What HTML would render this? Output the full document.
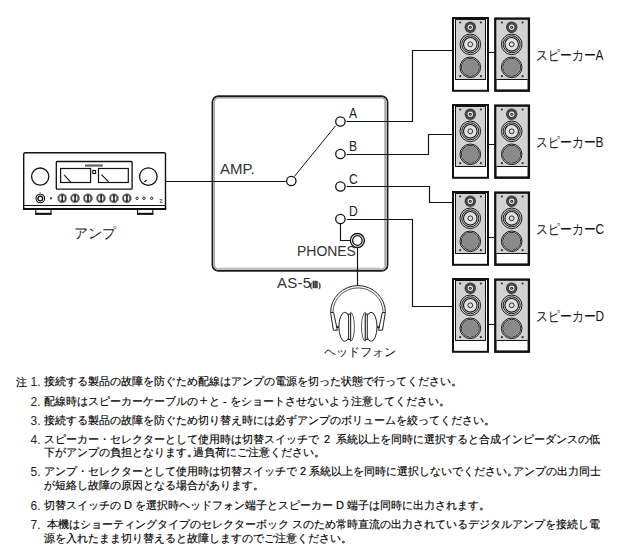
<!DOCTYPE html>
<html><head><meta charset="utf-8">
<style>
html,body{margin:0;padding:0;background:#fff;}
body{width:620px;height:560px;position:relative;overflow:hidden;font-family:"Liberation Sans",sans-serif;color:#222;}
svg{position:absolute;left:0;top:0;}
.t{position:absolute;white-space:nowrap;line-height:1;}
.lab{font-size:15px;color:#333;}
.abc{font-size:15.5px;color:#222;transform:scaleX(0.78);transform-origin:0 0;}
.jp{font-size:14px;color:#111;}
.spk{font-size:14px;color:#111;transform:scaleX(0.85);transform-origin:0 0;}
.notes{position:absolute;left:0;top:0;font-size:11px;color:#000;-webkit-text-stroke:0.15px #000;}
.n{position:absolute;white-space:nowrap;line-height:14px;}
.p{letter-spacing:-5px;}
.d{font-size:12px;-webkit-text-stroke:0;color:#222;margin-top:1px;}
</style></head><body>
<svg width="620" height="560" viewBox="0 0 620 560">
<defs>
 <g id="drv">
  <circle cx="0" cy="27.3" r="5.7" fill="#3a3a3a"/>
  <circle cx="0" cy="27.3" r="4.2" fill="none" stroke="#5a5a5a" stroke-width="0.8"/>
  <circle cx="0" cy="27.3" r="2.7" fill="#eeeeee"/>
  <circle cx="0" cy="27.3" r="1.5" fill="#222"/>
  <circle cx="0" cy="27.3" r="0.6" fill="#bbb"/>
  <g fill="none" stroke="#1a1a1a">
   <circle cx="0" cy="44.3" r="10.3" stroke-width="1"/>
   <circle cx="0" cy="44.3" r="8.5" stroke-width="1"/>
   <circle cx="0" cy="44.3" r="6.8" stroke-width="1.1" fill="#e0e0e0"/>
   <circle cx="0" cy="44.3" r="2.4" stroke-width="0.9"/>
   <circle cx="0" cy="67.3" r="10.3" stroke-width="1"/>
   <circle cx="0" cy="67.3" r="8.9" stroke-width="1"/>
  </g>
  <circle cx="0" cy="67.3" r="8.3" fill="#8a8a8a"/>
 </g>
 <g id="screws" fill="#333">
  <circle cx="0" cy="22.5" r="1.1"/><circle cx="20.7" cy="22.5" r="1.1"/>
  <circle cx="0" cy="76.2" r="1.1"/><circle cx="20.7" cy="76.2" r="1.1"/>
 </g>
 <g id="pair">
  <rect x="453" y="18" width="35" height="72.8" fill="#fff" stroke="#111" stroke-width="2"/>
  <rect x="455.5" y="19.5" width="30" height="60" fill="#d2d2d2" stroke="#111" stroke-width="1"/>
  <use href="#drv" x="470.3" y="0"/>
  <use href="#screws" x="460.2" y="0"/>
  <rect x="495.35" y="18.65" width="33.45" height="72" fill="#fff" stroke="#111" stroke-width="2.5"/>
  <rect x="496.6" y="19.9" width="30.8" height="59.7" fill="#d2d2d2"/>
  <line x1="496.4" y1="79.5" x2="527.6" y2="79.5" stroke="#111" stroke-width="1"/>
  <use href="#drv" x="511.7" y="0"/>
  <use href="#screws" x="501.9" y="0"/>
 </g>
</defs>
<use href="#pair" x="0" y="0"/>
<use href="#pair" x="0" y="87"/>
<use href="#pair" x="0" y="174"/>
<use href="#pair" x="0" y="261"/>

<!-- AMP unit -->
<g stroke="#111" fill="none">
 <path d="M23.7,209 L23.7,154.2 Q23.7,152.7 25.2,152.7 L164,152.7 Q165.5,152.7 165.5,154.2 L165.5,209" stroke-width="1.4"/>
 <line x1="23" y1="209" x2="166.2" y2="209" stroke-width="2"/>
 <line x1="23.7" y1="205.5" x2="165.5" y2="205.5" stroke-width="1"/>
 <path d="M35.8,210 L35.8,214 L51,214 L51,210" stroke-width="1.1"/>
 <line x1="35.3" y1="213.8" x2="51.5" y2="213.8" stroke-width="2"/>
 <path d="M137.5,210 L137.5,214 L152.8,214 L152.8,210" stroke-width="1.1"/>
 <line x1="137" y1="213.8" x2="153.3" y2="213.8" stroke-width="2"/>
 <circle cx="40.2" cy="176.6" r="8.6" stroke-width="1.3"/>
 <circle cx="148.3" cy="176.6" r="8.8" stroke-width="1.3"/>
 <line x1="144.5" y1="182" x2="146.5" y2="180" stroke-width="1.2"/>
 <rect x="56.3" y="161.5" width="75.8" height="27.7" rx="1" stroke-width="1.3"/>
 <rect x="60.6" y="168.5" width="30" height="14" stroke-width="1.2"/>
 <rect x="98.5" y="168.5" width="29.8" height="14" stroke-width="1.2"/>
 <line x1="64" y1="174.8" x2="70.8" y2="182.1" stroke-width="1.1"/>
 <line x1="101.4" y1="174.7" x2="108.7" y2="181.8" stroke-width="1.1"/>
 <rect x="92.8" y="170.5" width="2.8" height="3" stroke-width="1.1"/>
 <circle cx="40.3" cy="198.5" r="4.3" stroke-width="1.1"/>
 <circle cx="40.3" cy="198.5" r="2.4" stroke-width="1.3"/>
 <g stroke-width="0.9">
  <circle cx="137.1" cy="198.3" r="1.2"/><circle cx="143.9" cy="198.3" r="1.2"/><circle cx="151.7" cy="198.3" r="1.2"/>
 </g>
</g>
<g id="knobs">
 <circle cx="62.2" cy="198.3" r="4.6" fill="#4a4a4a" stroke="#999" stroke-width="0.8"/>
 <ellipse cx="60.5" cy="198.3" rx="1.1" ry="2.8" fill="#f4f4f4"/>
 <ellipse cx="63.8" cy="198.3" rx="0.9" ry="2.7" fill="#f4f4f4"/>
 <rect x="61.9" y="194.8" width="0.9" height="7" fill="#111"/>
 <circle cx="75" cy="198.3" r="4.6" fill="#4a4a4a" stroke="#999" stroke-width="0.8"/>
 <ellipse cx="73.3" cy="198.3" rx="1.1" ry="2.8" fill="#f4f4f4"/>
 <ellipse cx="76.6" cy="198.3" rx="0.9" ry="2.7" fill="#f4f4f4"/>
 <rect x="74.7" y="194.8" width="0.9" height="7" fill="#111"/>
 <circle cx="87.9" cy="198.3" r="4.6" fill="#4a4a4a" stroke="#999" stroke-width="0.8"/>
 <ellipse cx="86.2" cy="198.3" rx="1.1" ry="2.8" fill="#f4f4f4"/>
 <ellipse cx="89.5" cy="198.3" rx="0.9" ry="2.7" fill="#f4f4f4"/>
 <rect x="87.6" y="194.8" width="0.9" height="7" fill="#111"/>
 <circle cx="101" cy="198.3" r="4.6" fill="#4a4a4a" stroke="#999" stroke-width="0.8"/>
 <ellipse cx="99.3" cy="198.3" rx="1.1" ry="2.8" fill="#f4f4f4"/>
 <ellipse cx="102.6" cy="198.3" rx="0.9" ry="2.7" fill="#f4f4f4"/>
 <rect x="100.7" y="194.8" width="0.9" height="7" fill="#111"/>
 <circle cx="113.9" cy="198.3" r="4.6" fill="#4a4a4a" stroke="#999" stroke-width="0.8"/>
 <ellipse cx="112.2" cy="198.3" rx="1.1" ry="2.8" fill="#f4f4f4"/>
 <ellipse cx="115.5" cy="198.3" rx="0.9" ry="2.7" fill="#f4f4f4"/>
 <rect x="113.6" y="194.8" width="0.9" height="7" fill="#111"/>
 <circle cx="126.8" cy="198.3" r="4.6" fill="#4a4a4a" stroke="#999" stroke-width="0.8"/>
 <ellipse cx="125.1" cy="198.3" rx="1.1" ry="2.8" fill="#f4f4f4"/>
 <ellipse cx="128.4" cy="198.3" rx="0.9" ry="2.7" fill="#f4f4f4"/>
 <rect x="126.5" y="194.8" width="0.9" height="7" fill="#111"/>
</g>
<g fill="#222">
 <circle cx="51" cy="198.3" r="1.1"/>
 <circle cx="40" cy="192.4" r="0.5"/>
 <path d="M159.5,199.5 h2.5 l-2,3 h2.5" fill="none" stroke="#555" stroke-width="0.8"/>
</g>
<rect x="85" y="164.4" width="17.8" height="2.3" fill="#666"/>

<!-- Selector box -->
<rect x="212.4" y="96.1" width="175.2" height="174.8" rx="6" fill="none" stroke="#1e1e1e" stroke-width="1.7"/>
<rect x="214.2" y="97.8" width="171.3" height="171.3" rx="4.5" fill="none" stroke="#a0a0a0" stroke-width="1.4"/>
<line x1="384.6" y1="101" x2="384.6" y2="265" stroke="#b8b8b8" stroke-width="0.9"/>
<line x1="219" y1="268" x2="380" y2="268" stroke="#b8b8b8" stroke-width="0.8"/>

<g stroke="#111" fill="none" stroke-width="1.15">
 <!-- wires -->
 <polyline points="165.5,181.5 286.5,181.5"/>
 <polyline points="346.6,121.5 412.5,121.5 412.5,50.5 452,50.5"/>
 <polyline points="346.6,154.5 428.5,154.5 428.5,134.5 452,134.5"/>
 <polyline points="346.6,186.5 429.5,186.5 429.5,202.5 452,202.5"/>
 <polyline points="346.6,219.5 412.5,219.5 412.5,306.5 452,306.5"/>
 <polyline points="340.5,223.6 340.5,240.5 350.2,240.5"/>
 <line x1="357.5" y1="247.8" x2="357.5" y2="285.5"/>
 <!-- switch lever -->
 <line x1="294.4" y1="176.4" x2="335.6" y2="125.8" stroke-width="1"/>
 <circle cx="291.3" cy="181" r="4.7" stroke-width="1.3"/>
 <circle cx="340.4" cy="121.5" r="4.7" stroke-width="1.3"/>
 <circle cx="340.4" cy="154" r="4.7" stroke-width="1.3"/>
 <circle cx="340.4" cy="186.5" r="4.7" stroke-width="1.3"/>
 <circle cx="340.4" cy="219" r="4.7" stroke-width="1.3"/>
 <circle cx="357.4" cy="240.5" r="7" stroke-width="1.3"/>
 <circle cx="357.4" cy="240.5" r="4.8" stroke-width="1.3"/>
</g>

<!-- pair wires -->
<g stroke="#111" stroke-width="1">
 <line x1="489" y1="52.5" x2="494.3" y2="52.5"/>
 <line x1="489" y1="144.5" x2="494.3" y2="144.5"/>
 <line x1="489" y1="237.5" x2="494.3" y2="237.5"/>
 <line x1="489" y1="324.5" x2="494.3" y2="324.5"/>
</g>

<!-- Headphones -->
<g stroke="#222" fill="none" stroke-width="1">
 <path d="M330.6,312.5 A27.4,26.9 0 0 1 385.4,312.5"/>
 <path d="M332.9,312.5 A25.1,24.6 0 0 1 383.1,312.5" stroke="#444" stroke-width="0.9"/>
 <path d="M330.6,312.5 L333.6,312.5 L337.4,330.2 L333.4,330.2 Z" fill="#fff"/>
 <path d="M385.3,312.5 L382.3,312.5 L378.5,330.2 L382.5,330.2 Z" fill="#fff"/>
 <ellipse cx="344.8" cy="326.8" rx="5.9" ry="14.5" fill="#fff"/>
 <ellipse cx="371.1" cy="326.8" rx="5.9" ry="14.5" fill="#fff"/>
 <path d="M350.6,312.4 A3.8,14.4 0 0 1 350.6,341.2 Z" fill="#fff" stroke="#555"/>
 <path d="M365.3,312.4 A3.8,14.4 0 0 0 365.3,341.2 Z" fill="#fff" stroke="#555"/>
 <rect x="348.6" y="314.1" width="2" height="25.4" fill="#fff"/>
 <rect x="365.3" y="314.1" width="2" height="25.4" fill="#fff"/>
</g>
<g fill="#222">
 <rect x="336.4" y="326.2" width="2.4" height="1.8"/>
 <rect x="377.1" y="326.2" width="2.4" height="1.8"/>
</g>
</svg>

<!-- labels -->
<div class="t lab" style="left:220px;top:160.5px;">AMP.</div>
<div class="t lab" style="left:296.7px;top:243px;font-size:15.5px;transform:scaleX(0.9);transform-origin:0 0;">PHONES</div>
<div class="t lab" style="left:277px;top:275px;font-size:15px;letter-spacing:0.25px;">AS-5<span style="font-size:8.5px;letter-spacing:-0.4px;margin-left:-1.5px;font-weight:bold;color:#111;position:relative;top:-0.5px;font-family:'Liberation Serif',serif;">(Ⅲ)</span></div>
<div class="t abc" style="left:349.3px;top:105px;">A</div>
<div class="t abc" style="left:349.3px;top:138px;">B</div>
<div class="t abc" style="left:349.3px;top:170.5px;">C</div>
<div class="t abc" style="left:349.3px;top:203px;">D</div>
<div class="t jp" style="left:74px;top:225.5px;">アンプ</div>
<div class="t jp" style="left:324px;top:347px;font-size:11.5px;color:#111;">ヘッドフォン</div>
<div class="t spk" style="left:536px;top:48px;">スピーカーA</div>
<div class="t spk" style="left:536px;top:135px;">スピーカーB</div>
<div class="t spk" style="left:536px;top:222px;">スピーカーC</div>
<div class="t spk" style="left:536px;top:309px;">スピーカーD</div>

<!-- notes -->
<div class="notes">
 <div class="n" style="left:16px;top:375px;">注</div>
 <div class="n d" style="left:30.6px;top:374px;">1.</div><div class="n" style="left:44px;top:374px;">接続する製品の故障を防ぐため配線はアンプの電源を切った状態で行ってください。</div>
 <div class="n d" style="left:30.6px;top:393.5px;">2.</div><div class="n" style="left:44px;top:392.5px;">配線時はスピーカーケーブルの<span style="display:inline-block;width:11px;text-align:center;font-size:14px;-webkit-text-stroke:0;color:#222">+</span>と - をショートさせないよう注意してください。</div>
 <div class="n d" style="left:30.6px;top:412.5px;">3.</div><div class="n" style="left:44px;top:412.5px;">接続する製品の故障を防ぐため切り替え時には必ずアンプのボリュームを絞ってください。</div>
 <div class="n d" style="left:30.6px;top:431.5px;">4.</div><div class="n" style="left:44px;top:431.5px;">スピーカー・セレクターとして使用時は切替スイッチで<span style="letter-spacing:2px"> </span>2<span style="letter-spacing:3px"> </span>系統以上を同時に選択すると合成インピーダンスの低</div>
 <div class="n" style="left:44px;top:445.3px;">下がアンプの負担となります<span class="p">。</span>過負荷にご注意ください。</div>
 <div class="n d" style="left:30.6px;top:464.3px;">5.</div><div class="n" style="left:44px;top:464.3px;">アンプ・セレクターとして使用時は切替スイッチで 2 系統以上を同時に選択しないでください<span class="p">。</span>アンプの出力同士</div>
 <div class="n" style="left:44px;top:478.2px;">が短絡し故障の原因となる場合があります。</div>
 <div class="n d" style="left:30.6px;top:497.5px;">6.</div><div class="n" style="left:44px;top:497.5px;">切替スイッチの D を選択時ヘッドフォン端子とスピーカー D 端子は同時に出力されます。</div>
 <div class="n d" style="left:30.6px;top:516.5px;">7.</div><div class="n" style="left:46.5px;top:516.5px;">本機はショーティングタイプのセレクターボック<span style="margin-left:3px">ス</span>のため常時直流の出力されているデジタルアンプを接続し電</div>
 <div class="n" style="left:44px;top:530.5px;">源を入れたまま切り替えると故障しますのでご注意ください。</div>
</div>
</body></html>
